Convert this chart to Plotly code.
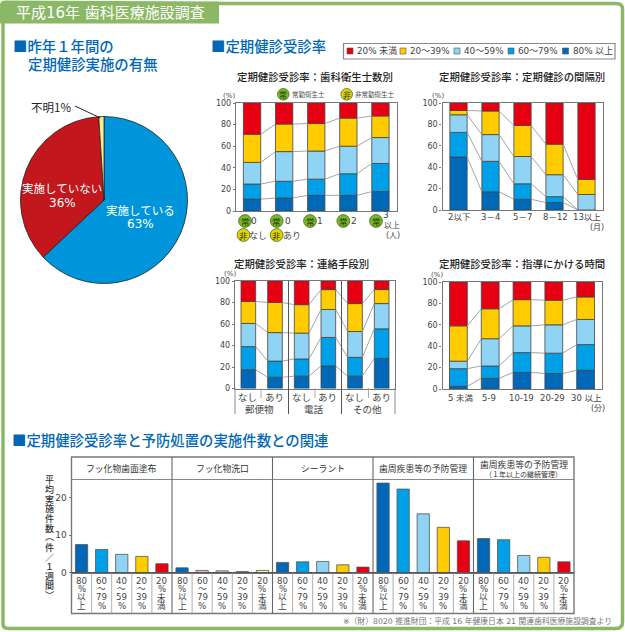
import plotly.graph_objects as go

# ---------- data ----------
pie_labels = ["実施している", "実施していない", "不明"]
pie_values = [63, 36, 1]

band_names = ["80% 以上", "60～79%", "40～59%", "20～39%", "20% 未満"]
band_colors = ["#0068b7", "#00a0e9", "#8fd3f5", "#ffcc00", "#e60012"]

# upper edges of the stacked bands
staff_80 = [11, 12, 14.5, 14.5, 18]
staff_60 = [25, 27.5, 29.5, 34.5, 44]
staff_40 = [45, 55, 55.5, 60, 68]
staff_20 = [71, 80.5, 81, 86, 88]

interval_cats = ["2以下", "3－4", "5－7", "8－12", "13以上"]
interval_80 = [49.5, 17, 10, 7, 0]
interval_60 = [72.5, 45.5, 24.5, 12.5, 0]
interval_40 = [89, 70.5, 50, 33, 14.5]
interval_20 = [93, 92.5, 79, 61.5, 28.5]

contact_cats = ["なし", "あり", "なし", "あり", "なし", "あり"]
contact_groups = ["郵便物", "電話", "その他"]
contact_80 = [17.5, 10.5, 11.5, 21, 11.5, 28]
contact_60 = [39, 25.5, 27.5, 47.5, 29, 55.5]
contact_40 = [60.5, 52, 51.5, 73.5, 53, 79]
contact_20 = [81, 80, 78, 92, 79, 92]

time_cats = ["5 未満", "5-9", "10-19", "20-29", "30 以上"]
time_80 = [2.5, 10, 15.5, 14.5, 17.5]
time_60 = [19, 21.5, 34, 33.5, 41.5]
time_40 = [26, 47, 59, 60, 65]
time_20 = [59, 75, 83.5, 83, 86]

prev_groups = ["フッ化物歯面塗布", "フッ化物洗口", "シーラント", "歯周疾患等の予防管理", "歯周疾患等の予防管理"]
prev_cats = [["80", "%", "以", "上"], ["60", "～", "79", "%"], ["40", "～", "59", "%"],
             ["20", "～", "39", "%"], ["20", "%", "未", "満"]]
prev_vals = [
    [7.5, 6.2, 4.9, 4.35, 2.4],
    [1.3, 0.6, 0.5, 0.3, 0.6],
    [2.75, 2.9, 3.0, 2.1, 1.5],
    [23.9, 22.3, 15.7, 12.1, 8.5],
    [9.1, 8.8, 4.6, 4.1, 2.9],
]
prev_faint = ["#0068b7", "#f0b4c4", "#a9d8f0", "#3c9a8c", "#fbf3a0"]
ytitle_chars = ["平", "均", "実", "施", "件", "数", "︵", "件", "／", "１", "週", "間", "︶"]

# ---------- style ----------
W, H = 625, 632
JP = "Noto Sans CJK JP"
NUM = "DejaVu Sans, Noto Sans CJK JP"
GREEN = "#8ab865"
BLUE = "#0068b7"
TXT = "#333333"
GRAY = "#777777"
CONN = "#9a9a9a"


def px(x):
    return x / W


def py(y):
    return 1 - y / H


fig = go.Figure()
shapes, notes = [], []


def note(x, y, text, size=10, color=TXT, anchor="center", weight=400, yanchor="middle", family=JP):
    notes.append(dict(x=px(x), y=py(y), xref="paper", yref="paper", text=text,
                      showarrow=False, xanchor=anchor, yanchor=yanchor, align="center",
                      font=dict(family=family, size=size, color=color, weight=weight),
                      borderpad=0))


def rect(x0, y0, x1, y1, fill=None, line=None, lw=1, layer="below"):
    shapes.append(dict(type="rect", xref="paper", yref="paper", x0=px(x0), x1=px(x1), y0=py(y0), y1=py(y1),
                       fillcolor=fill or "rgba(0,0,0,0)",
                       line=dict(color=line or "rgba(0,0,0,0)", width=lw if line else 0),
                       layer=layer))


def hline(x0, y0, x1, y1, color=GRAY, lw=1):
    shapes.append(dict(type="line", xref="paper", yref="paper", x0=px(x0), x1=px(x1), y0=py(y0), y1=py(y1),
                       line=dict(color=color, width=lw), layer="above"))


# ---------- page frame ----------
shapes.append(dict(type="path", xref="paper", yref="paper", layer="below", fillcolor="rgba(0,0,0,0)",
                   line=dict(color=GREEN, width=3.5),
                   path=f"M {px(3)} {py(20)} L {px(3)} {py(624)} Q {px(3)} {py(628.5)} {px(8)} {py(628.5)} "
                        f"L {px(616)} {py(628.5)} Q {px(622.5)} {py(628.5)} {px(622.5)} {py(622)} "
                        f"L {px(622.5)} {py(9)} Q {px(622.5)} {py(3.5)} {px(616)} {py(3.5)} L {px(210)} {py(3.5)}"))
shapes.append(dict(type="path", xref="paper", yref="paper", layer="below", fillcolor=GREEN, line=dict(width=0),
                   path=f"M {px(0)} {py(23.5)} L {px(0)} {py(5)} Q {px(0)} {py(0.5)} {px(5)} {py(0.5)} "
                        f"L {px(219)} {py(1.5)} L {px(219)} {py(23.5)} Z"))
note(15, 13, "平成16年 歯科医療施設調査", size=15, color="white", anchor="left", family=NUM)

# ---------- headings ----------
note(12, 45.5, "■昨年１年間の", size=14.4, color=BLUE, anchor="left", weight=500)
note(26.5, 63.5, "定期健診実施の有無", size=14.4, color=BLUE, anchor="left", weight=500)
note(210, 46, "■定期健診受診率", size=14.4, color=BLUE, anchor="left", weight=500)
note(11, 439.5, "■定期健診受診率と予防処置の実施件数との関連", size=14.4, color=BLUE, anchor="left", weight=500)

# ---------- pie ----------
cx, cy, r = 104, 200, 83.5
fig.add_trace(go.Pie(values=pie_values, labels=pie_labels, sort=False, direction="clockwise", rotation=0,
                     marker=dict(colors=["#0095db", "#c1171d", "#f8ef8c"], line=dict(color="#222222", width=0.8)),
                     textinfo="none", hoverinfo="label+percent", showlegend=False,
                     domain=dict(x=[px(cx - r), px(cx + r)], y=[py(cy + r), py(cy - r)])))
note(140, 210, "実施している", size=11.5, color="white")
note(140, 224, "63%", size=12, color="white", family=NUM)
note(61.5, 188.5, "実施していない", size=11.5, color="white")
note(62, 203, "36%", size=12, color="white", family=NUM)
note(50.5, 106.5, "不明1%", size=11.5, color="#222222")
hline(75, 106, 100.5, 118, color="#222222", lw=1)

# ---------- legend ----------
rect(343.5, 43.5, 615, 59, fill="white", line="#888888", lw=1.2)
leg_x = [347, 400, 454, 508, 562.5]
for i, n in enumerate(reversed(band_names)):
    c = list(reversed(band_colors))[i]
    rect(leg_x[i], 48, leg_x[i] + 6, 54, fill=c, line="#555555", lw=0.6, layer="above")
    note(leg_x[i] + 9, 51, n, size=8.8, color="#444444", anchor="left", family=NUM)


# ---------- stacked charts ----------
def stacked(idx, box, xs, width, s80, s60, s40, s20, pct_dx):
    x0, y0, x1, y1 = box
    xa, ya = f"xaxis{idx}", f"yaxis{idx}"
    xr, yr = f"x{idx}", f"y{idx}"
    tops = [s80, s60, s40, s20, [100] * len(s80)]
    prev = [0] * len(s80)
    for k, top in enumerate(tops):
        fig.add_trace(go.Bar(x=xs, y=[t - p for t, p in zip(top, prev)], base=prev, width=width,
                             marker=dict(color=band_colors[k], line=dict(color="#444444", width=0.8)),
                             name=band_names[k], xaxis=xr, yaxis=yr, showlegend=False))
        prev = top
    for top in tops[:-1]:
        lx, ly = [], []
        for i in range(len(xs) - 1):
            lx += [xs[i] + width / 2, xs[i + 1] - width / 2, None]
            ly += [top[i], top[i + 1], None]
        fig.add_trace(go.Scatter(x=lx, y=ly, mode="lines", line=dict(color=CONN, width=0.9),
                                 xaxis=xr, yaxis=yr, showlegend=False, hoverinfo="skip"))
    fig.layout[xa] = dict(domain=[px(x0), px(x1)], anchor=yr, range=[-0.5, len(xs) - 0.5], showgrid=False,
                          zeroline=False, showline=True, linecolor=GRAY, linewidth=1.4, mirror=True,
                          tickmode="array", tickvals=[], fixedrange=True, automargin=False)
    fig.layout[ya] = dict(domain=[py(y1), py(y0)], anchor=xr, range=[0, 100], showgrid=False, zeroline=False,
                          showline=True, linecolor=GRAY, linewidth=1.4, mirror=True,
                          tickmode="array", tickvals=[0, 20, 40, 60, 80, 100], ticks="outside", ticklen=2,
                          tickcolor=GRAY, tickfont=dict(family="DejaVu Sans", size=8, color="#444444"),
                          fixedrange=True, automargin=False)
    note(x0 - pct_dx, y0 - 7, "(%)", size=7, color="#444444", family=NUM)


xs5 = [0, 1, 2, 3, 4]
xs6 = [0, 1, 2, 3, 4, 5]
box1 = (236, 103, 396.5, 211)
box2 = (442.5, 103, 602.5, 210)
box3 = (235, 281, 395, 388.5)
box4 = (442.5, 282, 601.5, 389)
stacked(2, box1, xs5, 0.54, staff_80, staff_60, staff_40, staff_20, 7)
stacked(3, box2, xs5, 0.54, interval_80, interval_60, interval_40, interval_20, 5)
stacked(4, box3, xs6, 0.55, contact_80, contact_60, contact_40, contact_20, 5)
stacked(5, box4, xs5, 0.56, time_80, time_60, time_40, time_20, 6)

note(314.7, 77, "定期健診受診率：歯科衛生士数別", size=10.4, color="#222222", weight=500)
note(521.7, 77, "定期健診受診率：定期健診の間隔別", size=10.4, color="#222222", weight=500)
note(301, 263.5, "定期健診受診率：連絡手段別", size=10.4, color="#222222", weight=500)
note(521.7, 263, "定期健診受診率：指導にかける時間", size=10.4, color="#222222", weight=500)


def badge(x, y, ch, fill, size=8.5, rad=6.4):
    shapes.append(dict(type="circle", xref="paper", yref="paper", layer="above", x0=px(x - rad), x1=px(x + rad),
                       y0=py(y + rad), y1=py(y - rad), fillcolor=fill, line=dict(color="#4a6a20", width=0.8)))
    note(x, y, ch, size=size, color="#1c3400")


KG = "#79b52e"
KY = "#e2d400"
badge(283.3, 94.3, "常", KG, size=8, rad=5.8)
note(291, 94.3, "常勤衛生士", size=6.5, anchor="left", color="#444444")
badge(346.7, 94.3, "非", KY, size=8, rad=5.8)
note(354.3, 94.3, "非常勤衛生士", size=6.5, anchor="left", color="#444444")

# axis labels: chart 1
badge_x = [245, 276.7, 310, 343.3, 376]
digit_x = [254, 287.5, 320, 354, 386.5]
digit_y = [221, 221, 221, 221, 215.5]
vals1 = ["0", "0", "1", "2", "3"]
for bx, dx, dy, v in zip(badge_x, digit_x, digit_y, vals1):
    badge(bx, 221, "常", KG)
    note(dx, dy, v, size=9, color="#444444", family="DejaVu Sans")
badge(243.5, 235, "非", KY)
note(258, 235, "なし", size=9, color="#444444")
badge(276.7, 235, "非", KY)
note(291.7, 235, "あり", size=9, color="#444444")
note(392, 224, "以上", size=8, color="#444444")
note(393, 235, "(人)", size=8, color="#444444", family=NUM)

# axis labels: chart 2
for x, t in zip([459, 490.7, 522.7, 555, 587], interval_cats):
    note(x, 217.3, t, size=8.5, color="#444444", family=NUM)
note(596.7, 227.7, "(月)", size=8, color="#444444", family=NUM)

# axis labels: chart 3
for x, t in zip([247.5, 274, 301.5, 327.5, 354.5, 381], contact_cats):
    note(x, 396.5, t, size=9.5, color="#444444")
for x, t in zip([259.5, 313.5, 367], contact_groups):
    note(x, 409, t, size=9.5, color="#444444")
for x in (288.5, 341.5):
    hline(x, 281, x, 414, color="#555555", lw=1)
for x in (261, 315, 368.5):
    hline(x, 388, x, 398, color="#aaaaaa", lw=1)
hline(235, 388, 235, 414, color="#888888")
hline(395, 388, 395, 414, color="#888888")

# axis labels: chart 4
for x, t in zip([460.7, 489, 521, 552.7, 586.7], time_cats):
    note(x, 397.7, t, size=8.5, color="#444444", family=NUM)
note(597.7, 408, "(分)", size=8, color="#444444", family=NUM)

# ---------- bottom chart ----------
bx0, bx1 = 71.5, 574
btop, bhead, bbase, bbot = 457, 479.5, 572.7, 613.5
slots = list(range(25))
colors = [band_colors[k] for g in range(5) for k in range(5)]
colors[5:10] = prev_faint
vals = [v for g in prev_vals for v in g]
fig.add_trace(go.Bar(x=slots, y=vals, width=0.61, marker=dict(color=colors, line=dict(color="#555555", width=0.8)),
                     xaxis="x6", yaxis="y6", showlegend=False))
ymax = (bbase - bhead) / 3.75
fig.layout["xaxis6"] = dict(domain=[px(bx0), px(bx1)], anchor="y6", range=[-0.5, 24.5], showgrid=False,
                            zeroline=False, showline=True, linecolor=GRAY, linewidth=1.4,
                            tickmode="array", tickvals=[], fixedrange=True, automargin=False)
fig.layout["yaxis6"] = dict(domain=[py(bbase), py(bhead)], anchor="x6", range=[0, ymax], showgrid=False,
                            zeroline=False, showline=False, tickmode="array", tickvals=[0, 10, 20],
                            ticks="outside", ticklen=2, tickcolor=GRAY,
                            tickfont=dict(family="DejaVu Sans", size=9, color="#444444"), fixedrange=True,
                            automargin=False)
rect(bx0, btop, bx1, bbot, line=GRAY, lw=1.4, layer="above")
hline(bx0, bhead, bx1, bhead, color="#888888", lw=1)
hline(bx0, bbase, bx1, bbase, color="#555555", lw=1.2)
gw = (bx1 - bx0) / 5
sw = gw / 5
cat_rows = [581, 588.5, 597, 606]
for g in range(5):
    if g:
        hline(bx0 + g * gw, btop, bx0 + g * gw, bbot, color="#666666", lw=1.1)
    for k in range(5):
        cxk = bx0 + (g * 5 + k + 0.5) * sw
        if k:
            hline(cxk - sw / 2, bbase, cxk - sw / 2, bbot, color="#999999", lw=0.8)
        for yy, t in zip(cat_rows, prev_cats[k]):
            note(cxk, yy, t, size=8.6, color="#444444", family=NUM)
    if g < 4:
        note(bx0 + (g + 0.5) * gw, 468.3, prev_groups[g], size=8.8, color="#333333")
note(bx0 + 4.5 * gw, 464, prev_groups[4], size=8.8, color="#333333")
note(bx0 + 4.5 * gw, 474, "（１年以上の継続管理）", size=7, color="#333333")
for yy, ch in zip([479, 489, 499, 508.5, 518, 528, 536.5, 547.5, 557, 566, 576, 585, 595], ytitle_chars):
    note(49, yy, ch, size=9, color="#333333", weight=500)
note(613, 620.5, "※（財）8020 推進財団：平成 16 年健康日本 21 関連歯科医療施設調査より", size=7.8, color="#777777",
     anchor="right", family=NUM)

fig.update_layout(width=W, height=H, autosize=False, margin=dict(l=0, r=0, t=0, b=0), paper_bgcolor="white",
                  plot_bgcolor="white", barmode="overlay", shapes=shapes, annotations=notes, showlegend=False,
                  font=dict(family=JP))
fig.write_html("out.html", config={"displayModeBar": False},
               post_script="document.body.style.margin='0';document.body.style.overflow='hidden';")
